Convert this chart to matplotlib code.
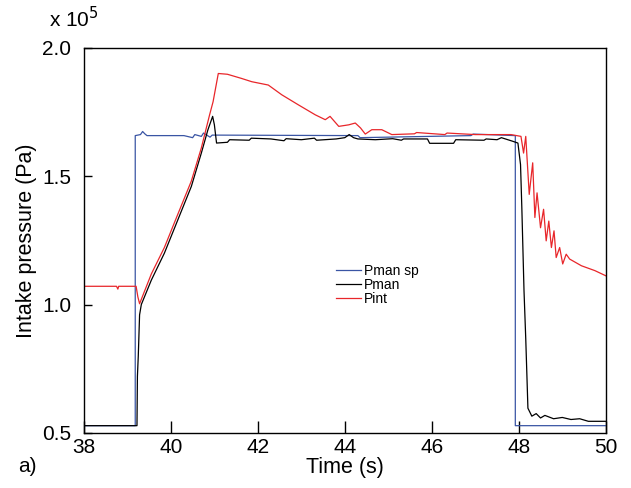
import matplotlib.pyplot as plt
import numpy as np

plt.rcParams['font.family'] = ['Liberation Sans', 'DejaVu Sans']

# values, pressure in units of 1e5 Pa
sp_t = [38, 39.18, 39.18, 39.3, 39.35, 39.4, 39.45, 40.3, 40.5, 40.55, 40.7, 40.75, 40.9, 40.95,
        44.3, 44.35, 46.9, 46.95, 47.92, 47.92, 50]
sp_v = [0.528, 0.528, 1.658, 1.662, 1.674, 1.665, 1.658, 1.658, 1.650, 1.662, 1.655, 1.668, 1.652, 1.660,
        1.658, 1.650, 1.658, 1.664, 1.658, 0.528, 0.528]

man_t = [38, 39.22, 39.23, 39.25, 39.28, 39.32, 39.55, 39.85, 40.16, 40.47, 40.70, 40.85, 40.96,
         41.0, 41.05, 41.3, 41.35, 41.8, 41.85, 42.3, 42.6, 42.65, 43.0, 43.3, 43.35, 43.8, 44.0,
         44.1, 44.2, 44.3, 44.7, 45.1, 45.3, 45.35, 45.9, 45.95, 46.5, 46.55, 47.2, 47.25, 47.5,
         47.6, 47.86, 47.98, 48.04, 48.07, 48.12, 48.16, 48.19, 48.21, 48.3, 48.4, 48.5, 48.6,
         48.8, 49.0, 49.2, 49.4, 49.6, 49.7, 50]
man_v = [0.528, 0.528, 0.72, 0.80, 0.96, 1.00, 1.095, 1.200, 1.330, 1.460, 1.590, 1.680, 1.733,
         1.700, 1.629, 1.632, 1.642, 1.640, 1.648, 1.645, 1.638, 1.646, 1.642, 1.648, 1.640, 1.645, 1.650,
         1.662, 1.650, 1.645, 1.642, 1.646, 1.640, 1.645, 1.645, 1.628, 1.628, 1.642, 1.640, 1.645, 1.642,
         1.650, 1.636, 1.629, 1.545, 1.377, 1.054, 0.867, 0.705, 0.596, 0.565, 0.575, 0.558, 0.568,
         0.555, 0.560, 0.552, 0.555, 0.545, 0.545, 0.545]

int_t = [38, 38.75, 38.78, 38.8, 39.2, 39.24, 39.28, 39.55, 39.85, 40.16, 40.47, 40.70, 40.89, 40.97,
         41.09, 41.3, 41.62, 41.86, 42.24, 42.55, 42.93, 43.32, 43.55, 43.66, 43.86, 44.09, 44.24, 44.36,
         44.47, 44.62, 44.85, 45.08, 45.6, 45.65, 46.3, 46.35, 47.0, 47.82, 48.05, 48.11, 48.16, 48.24,
         48.32, 48.37, 48.42, 48.50, 48.57, 48.63, 48.69, 48.75, 48.81, 48.86, 48.94, 49.01, 49.09,
         49.17, 49.44, 49.75, 50]
int_v = [1.071, 1.071, 1.060, 1.071, 1.071, 1.030, 1.003, 1.119, 1.222, 1.352, 1.481, 1.610, 1.739, 1.790,
         1.900, 1.897, 1.881, 1.868, 1.855, 1.817, 1.778, 1.739, 1.720, 1.733, 1.694, 1.700, 1.707, 1.688,
         1.664, 1.681, 1.681, 1.662, 1.665, 1.670, 1.662, 1.668, 1.662, 1.662, 1.655, 1.590, 1.655, 1.429,
         1.552, 1.339, 1.435, 1.299, 1.371, 1.248, 1.325, 1.222, 1.287, 1.183, 1.222, 1.158, 1.196,
         1.177, 1.151, 1.132, 1.112]

xticks = [38, 40, 42, 44, 46, 48, 50]
yticks = [0.5, 1.0, 1.5, 2.0]

fig = plt.figure(figsize=(6.31, 4.88), dpi=100)
ax = fig.add_axes([0.133, 0.113, 0.827, 0.789])

ax.plot(sp_t, sp_v, color='#3a55a4', lw=0.9, label='Pman sp')
ax.plot(man_t, man_v, color='black', lw=0.9, label='Pman')
ax.plot(int_t, int_v, color='#e8262a', lw=0.9, label='Pint')

ax.set_xlim(38, 50)
ax.set_ylim(0.5, 2.0)
ax.set_xticks(xticks)
ax.set_yticks(yticks)
ax.set_yticklabels(['%.1f' % v for v in yticks])
ax.tick_params(axis='x', direction='in', length=9, width=1, labelsize=15, pad=4)
ax.tick_params(axis='y', direction='in', length=6, width=1, labelsize=15, pad=9)
for s in ax.spines.values():
    s.set_linewidth(1)

ax.set_xlabel('Time (s)', fontsize=15.5, labelpad=0)
ax.set_ylabel('Intake pressure (Pa)', fontsize=15.5, labelpad=4)
fig.text(0.078, 0.962, 'x 10$^5$', fontsize=15, ha='left', va='center')
fig.text(0.028, 0.045, 'a)', fontsize=15, ha='left', va='center')

ax.legend(loc='upper left', bbox_to_anchor=(0.484, 0.438), frameon=False, fontsize=10,
          handlelength=1.75, handletextpad=0.2, labelspacing=0.0, borderaxespad=0,
          borderpad=0)

fig.savefig('out.png', dpi=100)
